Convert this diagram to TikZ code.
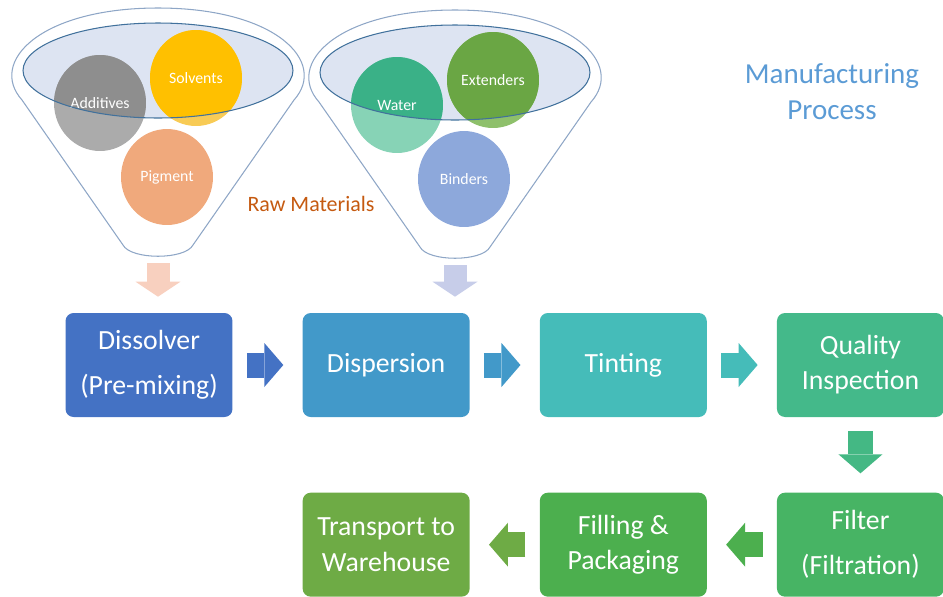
\documentclass[tikz,border=0pt]{standalone}
\usepackage{fontspec}
\setmainfont{Carlito}
\usetikzlibrary{positioning, arrows.meta, shapes.geometric}

\definecolor{funnelline}{HTML}{8EA6C6}
\definecolor{rimline}{HTML}{41719C}
\definecolor{rimfill}{HTML}{DDE4F2}
\definecolor{adddark}{HTML}{8E8E8E}
\definecolor{addlight}{HTML}{ABABAB}
\definecolor{solvdark}{HTML}{FFC000}
\definecolor{solvlight}{HTML}{F8CB55}
\definecolor{pigmentcol}{HTML}{F0A97C}
\definecolor{waterdark}{HTML}{3AB187}
\definecolor{waterlight}{HTML}{87D3B6}
\definecolor{extdark}{HTML}{6AA644}
\definecolor{extlight}{HTML}{8EC06B}
\definecolor{bindercol}{HTML}{8DA8DB}
\definecolor{salmonarrow}{HTML}{F8D0BF}
\definecolor{lavenderarrow}{HTML}{C7CDE9}
\definecolor{dissolvercol}{HTML}{4472C4}
\definecolor{dispersioncol}{HTML}{4299C9}
\definecolor{tintingcol}{HTML}{45BCB9}
\definecolor{qualitycol}{HTML}{44B98A}
\definecolor{filtercol}{HTML}{47B464}
\definecolor{fillingcol}{HTML}{4CAF4E}
\definecolor{transportcol}{HTML}{6EAB45}
\definecolor{titlecol}{HTML}{5B9BD5}
\definecolor{rawcol}{HTML}{C55A11}

\tikzset{
  stage/.style={rounded corners=0.16cm, minimum width=3.34cm, minimum height=2.08cm,
    text=white, align=center, inner sep=2pt, font=\fontsize{15.8}{20}\selectfont},
  flow/.style={line width=0.5cm, -{Triangle[length=0.38cm, width=0.88cm, line width=0pt]},
    shorten <=0.28cm, shorten >=0.38cm},
  feed/.style={line width=0.46cm, -{Triangle[length=0.3cm, width=0.9cm, line width=0pt]},
    shorten <=0.12cm, shorten >=0.32cm},
  blob/.style={ellipse, minimum width=1.84cm, minimum height=1.92cm, inner sep=0pt,
    text=white, font=\fontsize{9}{11}\selectfont},
  dipped/.style 2 args={path picture={\fill[#1] (#2) ellipse [x radius=2.7cm, y radius=0.95cm];}},
  funnel/.style={draw=funnelline, line width=0.6pt},
  rim/.style={draw=rimline, line width=0.6pt}
}

\begin{document}
\begin{tikzpicture}[x=0.02cm, y=-0.02cm]
\useasboundingbox (0,0) rectangle (943,596);

% first funnel
\begin{scope}
  \draw[funnel] (123,245) -- (22,100) .. controls (-12,62) and (40,8) .. (158,8)
    .. controls (276,8) and (328,62) .. (294,100) -- (193,245)
    .. controls (185,260) and (131,260) .. (123,245) -- cycle;
  \coordinate (rim1) at (158,70.5);
  \coordinate (neck1) at (158,257);
  \fill[rimfill] (rim1) ellipse [x radius=2.7cm, y radius=0.95cm];
  \node[blob, fill=addlight, dipped={adddark}{rim1}] (additives) at (100,103) {Additives};
  \node[blob, fill=solvlight, dipped={solvdark}{rim1}] (solvents) at (196,78) {Solvents};
  \node[blob, fill=pigmentcol] (pigment) at (167,177) {Pigment};
  \draw[rim] (rim1) ellipse [x radius=2.7cm, y radius=0.95cm];
\end{scope}

% second funnel
\begin{scope}[shift={(297,2)}]
  \draw[funnel] (123,245) -- (22,100) .. controls (-12,62) and (40,8) .. (158,8)
    .. controls (276,8) and (328,62) .. (294,100) -- (193,245)
    .. controls (185,260) and (131,260) .. (123,245) -- cycle;
  \coordinate (rim2) at (158,70.5);
  \coordinate (neck2) at (158,257);
  \fill[rimfill] (rim2) ellipse [x radius=2.7cm, y radius=0.95cm];
  \node[blob, fill=waterlight, dipped={waterdark}{rim2}] (water) at (100,103) {Water};
  \node[blob, fill=extlight, dipped={extdark}{rim2}] (extenders) at (196,78) {Extenders};
  \node[blob, fill=bindercol] (binders) at (167,177) {Binders};
  \draw[rim] (rim2) ellipse [x radius=2.7cm, y radius=0.95cm];
\end{scope}

\node[text=rawcol, font=\fontsize{12.5}{15}\selectfont] (raw) at (311,204) {Raw Materials};
\node[text=titlecol, align=center, font=\fontsize{16.5}{20.5}\selectfont] (heading) at (832,92) {Manufacturing\\Process};

% process steps
\node[stage, fill=dissolvercol] (dissolver) at (149,365) {Dissolver\\[5.5pt](Pre-mixing)};
\node[stage, fill=dispersioncol, right=1.39cm of dissolver] (dispersion) {Dispersion};
\node[stage, fill=tintingcol, right=1.39cm of dispersion] (tinting) {Tinting};
\node[stage, fill=qualitycol, right=1.39cm of tinting] (quality) {Quality\\Inspection};
\node[stage, fill=filtercol, below=1.5cm of quality] (filter) {Filter\\[5.5pt](Filtration)};
\node[stage, fill=fillingcol, left=1.39cm of filter] (filling) {Filling \&\\Packaging};
\node[stage, fill=transportcol, left=1.39cm of filling] (transport) {Transport to\\Warehouse};

\draw[feed, salmonarrow] (neck1) -- (neck1 |- dissolver.north);
\draw[feed, lavenderarrow] (neck2) -- (neck2 |- dispersion.north);

\draw[flow, dissolvercol] (dissolver) -- (dispersion);
\draw[flow, dispersioncol] (dispersion) -- (tinting);
\draw[flow, tintingcol] (tinting) -- (quality);
\draw[flow, qualitycol!85!filtercol] (quality) -- (filter);
\draw[flow, fillingcol] (filter) -- (filling);
\draw[flow, transportcol] (filling) -- (transport);
\end{tikzpicture}
\end{document}
